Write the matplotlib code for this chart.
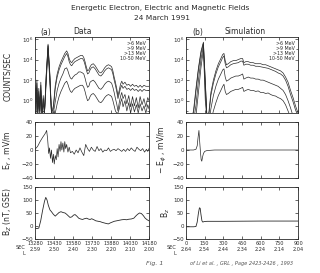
import matplotlib
matplotlib.use("Agg")
import matplotlib.pyplot as plt
import numpy as np
from matplotlib.ticker import FixedLocator, NullFormatter

# ---------------- data ----------------
# (a) Data panel: time (s) and log10 counts/sec for each channel
t_a = [13280,13288,13295,13302,13310,13318,13326,13335,13345,13355,
       13368,13383,13398,13410,13425,13440,13455,13470,13485,13500,
       13515,13530,13540,13550,13560,13570,13580,13595,13610,13625,
       13640,13655,13665,13675,13685,13695,13705,13715,13725,13740,
       13755,13770,13785,13800,13815,13830,13845,13860,13875,13885,
       13895,13905,13915,13925,13935,13945,13955,13965,13975,13990,
       14005,14020,14035,14050,14065,14080,14095,14110,14125,14140,
       14155,14170,14180]
gt6_a = [1.5,0.2,2.0,-0.8,1.2, -0.5,1.8,-1.2,0.5,-1.2,
         2.5,5.5,2.5,-1.2,-0.5, 1.5,2.6,3.3,3.8,4.2,
         4.6,4.85,4.6,4.1,3.8, 3.7,3.9,4.1,4.2,4.3,
         4.4,4.4,4.2,3.8,3.3, 2.9,3.0,3.3,3.5,3.6,
         3.4,3.1,2.8,2.7,2.9, 3.2,3.4,3.5,3.4,3.3,
         2.9,2.3,1.8,1.2,0.5, 1.0,1.6,1.9,1.6,1.8,
         1.5,1.6,1.4,1.6,1.4, 1.5,1.3,1.5,1.3,1.5,
         1.4,1.4,1.4]
gt9_a = [1.2,-0.3,1.7,-1.2,0.9, -1.0,1.5,-1.2,0.2,-1.2,
         2.3,5.4,2.3,-1.2,-0.8, 1.2,2.3,3.0,3.5,3.9,
         4.3,4.6,4.3,3.8,3.5, 3.4,3.6,3.8,3.9,4.0,
         4.1,4.1,3.9,3.5,3.0, 2.6,2.7,3.0,3.2,3.3,
         3.1,2.8,2.5,2.4,2.6, 2.9,3.1,3.2,3.1,3.0,
         2.6,2.0,1.5,0.9,0.2, 0.7,1.2,1.5,1.2,1.4,
         1.1,1.2,1.0,1.2,1.0, 1.1,0.9,1.1,0.9,1.1,
         1.0,1.0,1.0]
gt13_a = [0.8,-1.0,1.2,-1.2,0.4, -1.2,1.0,-1.2,-0.3,-1.2,
          2.0,5.3,2.0,-1.2,-1.2, -0.1,1.0,1.7,2.2,2.6,
          3.1,3.2,2.9,2.5,2.2, 2.1,2.3,2.5,2.6,2.8,
          2.8,2.7,2.6,2.2,1.7, 1.3,1.4,1.8,1.9,2.0,
          1.8,1.5,1.2,1.1,1.3, 1.6,1.8,1.9,1.8,1.7,
          1.3,0.8,0.2,-0.3,-1.0, -0.2,0.4,0.8,0.2,0.6,
          -0.3,0.5,-0.6,0.4,-0.5, 0.3,-0.7,0.4,-0.4,0.2,
          -0.6,0.3,0.0]
e1050_a = [0.3,-1.2,0.8,-1.2,0.0, -1.2,0.5,-1.2,-1.0,-1.2,
           1.6,5.1,1.5,-1.2,-1.2, -1.2,-0.3,0.4,0.9,1.3,
           1.7,1.9,1.6,1.2,0.9, 0.8,1.0,1.2,1.3,1.4,
           1.5,1.5,1.3,0.9,0.4, 0.0,0.1,0.4,0.6,0.7,
           0.5,0.2,-0.1,-0.2,0.0, 0.3,0.5,0.6,0.5,0.4,
           0.0,-0.5,-1.0,-1.2,-1.2, -0.8,-0.2,0.2,-0.6,0.0,
           -1.0,-0.2,-1.2,-0.3,-1.1, -0.4,-1.2,-0.3,-1.0,-0.5,
           -1.2,-0.4,-0.8]

# (b) Simulation panel
t_b = [0,20,40,60,80,100,120,140,155,170,
       185,200,220,240,260,280,295,305,315,325,
       340,360,380,400,420,440,455,465,480,500,
       520,540,560,580,600,620,640,660,680,700,
       720,740,760,780,800,820,840,860,880,900]
gt6_b = [-2,-2,-2,-1.0,1.2, 3.2,4.8,5.7,2.0,-2,
         -1.0,0.8,2.0,2.9,3.6, 4.1,4.5,4.6,3.9,3.5,
         3.6,3.8,3.9,3.9,4.0, 4.1,4.1,3.7,3.8,3.8,
         3.7,3.7,3.6,3.6,3.6, 3.5,3.5,3.4,3.3,3.2,
         3.1,3.0,2.9,2.7,2.3, 1.8,1.0,0.3,-0.5,-1.2]
gt9_b = [-2,-2,-2,-1.3,0.9, 3.0,4.6,5.6,1.8,-2,
         -1.3,0.5,1.7,2.6,3.3, 3.8,4.2,4.35,3.6,3.2,
         3.3,3.5,3.6,3.65,3.7, 3.85,3.85,3.45,3.55,3.55,
         3.45,3.45,3.35,3.35,3.3, 3.25,3.2,3.15,3.05,2.95,
         2.85,2.7,2.6,2.4,2.0, 1.4,0.6,-0.1,-0.9,-1.5]
gt13_b = [-2,-2,-2,-2,-0.5, 2.0,4.0,5.4,1.0,-2,
          -2,-0.8,0.5,1.4,2.1, 2.6,3.0,3.1,2.3,1.9,
          2.0,2.2,2.3,2.4,2.4, 2.5,2.6,2.1,2.2,2.3,
          2.2,2.2,2.1,2.1,2.0, 2.0,1.9,1.8,1.7,1.6,
          1.5,1.4,1.2,1.0,0.6, 0.0,-0.7,-1.5,-2,-2]
e1050_b = [-2,-2,-2,-2,-1.5, 0.8,3.2,5.0,0.0,-2,
           -2,-2,-1.0,-0.2,0.5, 1.0,1.4,1.6,0.9,0.6,
           0.7,0.9,1.0,1.1,1.1, 1.2,1.3,0.9,1.0,1.1,
           1.0,1.0,0.9,0.95,0.8, 0.8,0.7,0.75,0.6,0.5,
           0.45,0.3,0.2,0.0,-0.4, -1.0,-1.6,-2,-2,-2]

# Electric field
t_ey = [13280,13300,13320,13340,13355,13365,13372,13380,13388,13395,
        13402,13410,13418,13425,13432,13440,13448,13455,13462,13470,
        13478,13485,13492,13500,13508,13515,13522,13530,13540,13550,
        13560,13575,13590,13605,13620,13635,13650,13665,13680,13695,
        13710,13725,13740,13755,13770,13785,13800,13815,13830,13845,
        13860,13875,13890,13905,13920,13935,13950,13965,13980,13995,
        14010,14025,14040,14055,14070,14085,14100,14115,14130,14145,
        14160,14170,14180]
ey = [1,5,12,18,22, 25,28,15,-5,3,
      -12,0,-18,-6,-20, -8,-14,2,-10,8,
      -2,12,0,10,-3, 12,2,8,-3,4,
      -4,-2,-6,0,-4, 3,-3,-8,8,2,
      -2,4,0,-2,5, -1,2,-3,0,-1,
      3,-2,0,1,-1, 2,0,-2,1,-2,
      2,-1,3,0,-2, 4,1,-1,2,-3,
      1,-2,2]
t_ephi = [0,60,80,90,97,104,110,117,122,127,133,140,150,165,190,230,900]
ephi = [0,0,1,6,18,28,12,-5,-14,-16,-10,-5,-2,-1,-0.5,0,0]

# Magnetic field
t_bz = [13280,13295,13310,13325,13340,13355,13365,13375,13385,13398,
        13410,13425,13440,13455,13470,13485,13500,13517,13530,13545,
        13556,13570,13585,13596,13610,13625,13640,13655,13670,13688,
        13700,13715,13727,13745,13760,13780,13793,13810,13825,13840,
        13859,13875,13890,13905,13925,13945,13965,13985,14004,14020,
        14040,14060,14075,14090,14105,14120,14135,14150,14165,14180]
bz = [-8,-10,-8,20,60,95,110,100,80,62,
      55,45,38,45,52,55,52,50,45,38,
      33,35,42,44,38,30,27,25,28,30,
      27,25,28,24,20,18,17,14,12,10,
      8,12,15,18,20,22,24,25,24,26,
      27,30,38,45,50,48,40,30,24,20]
t_bzs = [0,60,80,90,100,108,114,120,128,135,145,170,300,600,900]
bzs = [-3,-3,-2,15,50,70,68,45,20,15,17,18,18,19,19]

sec_a = [13280,13430,13580,13730,13880,14030,14180]
L_a = ["2.59","2.50","2.40","2.30","2.20","2.10","2.00"]
sec_b = [0,150,300,450,600,750,900]
L_b = ["2.64","2.54","2.44","2.34","2.24","2.14","2.04"]
channels = [">6 MeV", ">9 MeV", ">13 MeV", "10-50 MeV"]

# ---------------- layout ----------------
W, H = 320, 273
fig = plt.figure(figsize=(W/100, H/100), dpi=100)
fig.patch.set_facecolor("white")

def rect(x0, y0, x1, y1):
    return [x0/W, 1 - y1/H, (x1-x0)/W, (y1-y0)/H]

LC = "#2a2a2a"
FS = 4.0
cols = [(35, 149), (186, 298)]
rows = [(37, 113), (122, 178), (187, 239)]

def style(ax):
    ax.tick_params(direction="in", top=True, right=True, length=2, width=0.5,
                   labelsize=FS, pad=1.5, colors=LC)
    ax.tick_params(which="minor", direction="in", top=True, right=True, length=1.2, width=0.4)
    for s in ax.spines.values():
        s.set_linewidth(0.6)
        s.set_color(LC)

axes = {}
for ci, (x0, x1) in enumerate(cols):
    for ri, (y0, y1) in enumerate(rows):
        ax = fig.add_axes(rect(x0, y0, x1, y1))
        style(ax)
        axes[(ri, ci)] = ax

series_a = [gt6_a, gt9_a, gt13_a, e1050_a]
series_b = [gt6_b, gt9_b, gt13_b, e1050_b]
for ci, (tt, ss, xl) in enumerate([(t_a, series_a, (13280, 14180)), (t_b, series_b, (0, 900))]):
    ax = axes[(0, ci)]
    for s in ss:
        ax.plot(tt, 10.0 ** np.array(s), color=LC, lw=0.5)
    ax.set_yscale("log")
    ax.set_ylim(10 ** -1.2, 10 ** 6.2)
    ax.set_xlim(*xl)
    ax.yaxis.set_major_locator(FixedLocator([1, 1e2, 1e4, 1e6]))
    ax.set_yticklabels(["$10^0$", "$10^2$", "$10^4$", "$10^6$"])
    ax.yaxis.set_minor_locator(FixedLocator([1e-1, 1e1, 1e3, 1e5]))
    ax.yaxis.set_minor_formatter(NullFormatter())
    ax.set_xticks(sec_a if ci == 0 else sec_b)
    ax.set_xticklabels([])
    ax.text(0.97, 0.95, "\n".join(channels), transform=ax.transAxes, ha="right", va="top",
            fontsize=3.4, color=LC, linespacing=1.0)

for ci, (tt, vv, xl) in enumerate([(t_ey, ey, (13280, 14180)), (t_ephi, ephi, (0, 900))]):
    ax = axes[(1, ci)]
    ax.plot(tt, vv, color=LC, lw=0.5)
    ax.set_xlim(*xl)
    ax.set_ylim(-40, 40)
    ax.set_yticks([-40, -20, 0, 20, 40])
    ax.set_xticks(sec_a if ci == 0 else sec_b)
    ax.set_xticklabels([])

for ci, (tt, vv, xl, secs, Ls) in enumerate([(t_bz, bz, (13280, 14180), sec_a, L_a),
                                              (t_bzs, bzs, (0, 900), sec_b, L_b)]):
    ax = axes[(2, ci)]
    ax.plot(tt, vv, color=LC, lw=0.6)
    ax.set_xlim(*xl)
    ax.set_ylim(-50, 150)
    ax.set_yticks([-50, 0, 50, 100, 150])
    ax.set_xticks(secs)
    ax.set_xticklabels([f"{s}\n{l}" for s, l in zip(secs, Ls)], fontsize=3.6, linespacing=1.3)
    ax.text(-0.085, -0.12, "SEC", transform=ax.transAxes, ha="right", va="top",
            fontsize=3.6, color=LC)
    ax.text(-0.085, -0.235, "L", transform=ax.transAxes, ha="right", va="top",
            fontsize=3.6, color=LC)

# y labels
fig.text(8/W, 1 - 76/H, "COUNTS/SEC", rotation=90, ha="center", va="center", fontsize=5.5, color=LC)
fig.text(8/W, 1 - 150/H, "E$_Y$ , mV/m", rotation=90, ha="center", va="center", fontsize=5.5, color=LC)
fig.text(8/W, 1 - 212/H, "B$_Z$ (nT, GSE)", rotation=90, ha="center", va="center", fontsize=5.5, color=LC)
fig.text(162/W, 1 - 150/H, "$-$ E$_\\phi$ , mV/m", rotation=90, ha="center", va="center", fontsize=5.5, color=LC)
fig.text(166/W, 1 - 213/H, "B$_z$", rotation=90, ha="center", va="center", fontsize=5.5, color=LC)

# titles
fig.text(160/W, 1 - 8/H, "Energetic Electron, Electric and Magnetic Fields", ha="center", va="center",
         fontsize=5.4, color=LC)
fig.text(162/W, 1 - 18/H, "24 March 1991", ha="center", va="center", fontsize=5.4, color=LC)
fig.text(46/W, 1 - 32/H, "(a)", ha="center", va="center", fontsize=5.5, color=LC)
fig.text(82/W, 1 - 31/H, "Data", ha="center", va="center", fontsize=5.5, color=LC)
fig.text(198/W, 1 - 32/H, "(b)", ha="center", va="center", fontsize=5.5, color=LC)
fig.text(245/W, 1 - 31/H, "Simulation", ha="center", va="center", fontsize=5.5, color=LC)

# handwritten note
fig.text(155/W, 1 - 263/H, "Fig. 1", ha="center", va="center", fontsize=4.5, color="#555555", style="italic")
fig.text(242/W, 1 - 264/H, "of Li et al. , GRL , Page 2423-2426 , 1993", ha="center", va="center",
         fontsize=3.6, color="#555555", style="italic")

fig.savefig("out.png", dpi=100, facecolor="white")
